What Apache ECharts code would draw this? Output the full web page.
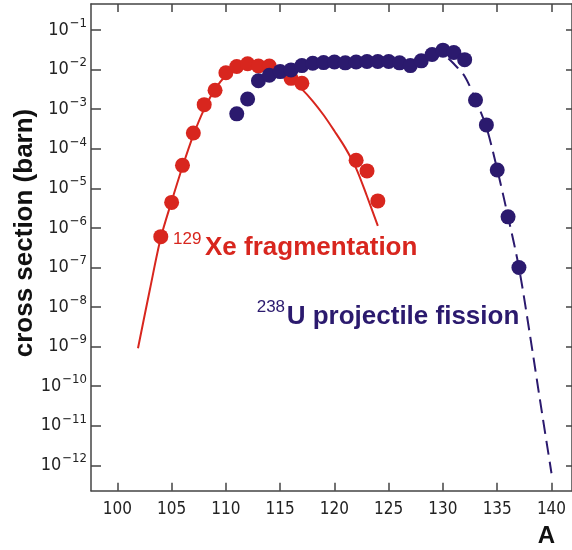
<!DOCTYPE html>
<html>
<head>
<meta charset="utf-8">
<script src="https://cdn.jsdelivr.net/npm/echarts@6/dist/echarts.min.js"></script>
<style>
  html, body { margin: 0; padding: 0; background: #fff; }
  #chart { width: 572px; height: 550px; }
</style>
</head>
<body>
<div id="chart"></div>
<script>
// Mass number A and production cross sections (barn)

// 129Xe fragmentation: measured points
const xeA     = [104, 105, 106, 107, 108, 109, 110, 111, 112, 113, 114, 116, 117, 122, 123, 124];
const xeSigma = [6.0e-7, 4.4e-6, 3.8e-5, 2.5e-4, 1.3e-3, 3.0e-3, 8.3e-3, 1.2e-2, 1.4e-2, 1.23e-2,
                 1.23e-2, 6.0e-3, 4.5e-3, 5.1e-5, 2.75e-5, 4.8e-6];

// 129Xe fragmentation: calculated curve
const xeCurveA     = [101.9, 103, 104, 105, 106, 107, 108, 109, 110, 111, 112, 113, 114, 115,
                      116, 117, 118, 119, 120, 121, 122, 123, 124];
const xeCurveSigma = [9.1e-10, 2.8e-8, 5.6e-7, 4.7e-6, 3.5e-5, 2.2e-4, 1.0e-3, 3.2e-3, 7.1e-3,
                      1.12e-2, 1.35e-2, 1.35e-2, 1.17e-2, 8.9e-3, 5.6e-3, 3.2e-3, 1.6e-3, 7.1e-4,
                      2.8e-4, 1.05e-4, 3.2e-5, 6.3e-6, 1.12e-6];

// 238U projectile fission: measured points
const uA     = [111, 112, 113, 114, 115, 116, 117, 118, 119, 120, 121, 122, 123, 124,
                125, 126, 127, 128, 129, 130, 131, 132, 133, 134, 135, 136, 137];
const uSigma = [7.6e-4, 1.8e-3, 5.2e-3, 7.2e-3, 8.9e-3, 9.8e-3, 1.26e-2, 1.45e-2, 1.5e-2,
                1.55e-2, 1.48e-2, 1.55e-2, 1.6e-2, 1.6e-2, 1.6e-2, 1.48e-2, 1.26e-2, 1.66e-2,
                2.4e-2, 3.1e-2, 2.7e-2, 1.78e-2, 1.7e-3, 4.0e-4, 2.9e-5, 1.9e-6, 1.0e-7];

// 238U projectile fission: calculated tail
const uCurveA     = [130.5, 131, 132, 133, 134, 135, 136, 137, 138, 139, 140];
const uCurveSigma = [1.9e-2, 1.4e-2, 6.8e-3, 1.74e-3, 3.5e-4, 3.0e-5, 1.9e-6, 1.0e-7,
                     2.1e-9, 3.5e-11, 6.3e-13];

// Axis ticks
const xTicks = [100, 105, 110, 115, 120, 125, 130, 135, 140];
const yTickExponents = [-12, -11, -10, -9, -8, -7, -6, -5, -4, -3, -2, -1];

const pairs = (xs, ys) => xs.map((x, i) => [x, ys[i]]);
const yTicks = yTickExponents.map(e => Math.pow(10, e));

const RED = '#d8261e';
const BLUE = '#2b1a6e';
const AXIS = '#444';
const NARROW = "'Liberation Sans Narrow', 'DejaVu Sans Condensed', 'Liberation Sans', sans-serif";
const SANS = "'Liberation Sans', Arial, sans-serif";

const X_MIN = 97.57, X_MAX = 141.89;
const Y_MIN = Math.pow(10, -12.642), Y_MAX = Math.pow(10, -0.343);

const axisLine = { show: true, onZero: false, lineStyle: { color: AXIS, width: 1.5 } };

function textEl(x, y, text, size, weight, color, align, rotation) {
  return {
    type: 'text', x: x, y: y, rotation: rotation || 0,
    style: {
      text: text, fontSize: size, fontWeight: weight, fontFamily: SANS, fill: color,
      textAlign: align, textVerticalAlign: 'middle', align: align, verticalAlign: 'middle'
    }
  };
}

const chart = echarts.init(document.getElementById('chart'), null, { renderer: 'canvas' });

chart.setOption({
  animation: false,
  backgroundColor: '#fff',
  grid: { left: 91, right: -1, top: 4, bottom: 59.3, containLabel: false },
  xAxis: [
    {
      type: 'value', min: X_MIN, max: X_MAX, position: 'bottom',
      axisLine: axisLine,
      axisTick: { show: true, inside: true, length: 8, customValues: xTicks, lineStyle: { color: AXIS, width: 1.5 } },
      axisLabel: { customValues: xTicks, margin: 10, fontSize: 17, color: '#222', fontFamily: NARROW },
      splitLine: { show: false }
    },
    {
      type: 'value', min: X_MIN, max: X_MAX, position: 'top',
      axisLine: axisLine,
      axisTick: { show: true, inside: true, length: 8, customValues: xTicks, lineStyle: { color: AXIS, width: 1.5 } },
      axisLabel: { show: false },
      splitLine: { show: false }
    }
  ],
  yAxis: [
    {
      type: 'log', logBase: 10, min: Y_MIN, max: Y_MAX, position: 'left',
      axisLine: axisLine,
      axisTick: { show: true, inside: true, length: 10, customValues: yTicks, lineStyle: { color: AXIS, width: 1.5 } },
      axisLabel: {
        customValues: yTicks,
        margin: 4,
        formatter: v => '{b|10}{s|\u2212' + (-Math.round(Math.log10(v))) + '}',
        rich: {
          b: { fontSize: 18, lineHeight: 26, color: '#222', fontFamily: NARROW },
          s: { fontSize: 13, lineHeight: 13, verticalAlign: 'top', color: '#222', fontFamily: NARROW, padding: [0, 0, 0, 1] }
        }
      },
      splitLine: { show: false }
    },
    {
      type: 'log', logBase: 10, min: Y_MIN, max: Y_MAX, position: 'right',
      axisLine: axisLine,
      axisTick: { show: true, inside: true, length: 6, customValues: yTicks, lineStyle: { color: AXIS, width: 1.5 } },
      axisLabel: { show: false },
      splitLine: { show: false }
    }
  ],
  series: [
    {
      name: 'Xe curve', type: 'line', data: pairs(xeCurveA, xeCurveSigma),
      smooth: 0.3, showSymbol: false, silent: true,
      lineStyle: { color: RED, width: 2 }, z: 2
    },
    {
      name: 'Xe data', type: 'scatter', data: pairs(xeA, xeSigma),
      symbol: 'circle', symbolSize: 15, itemStyle: { color: RED, opacity: 1 }, z: 3
    },
    {
      name: 'U curve', type: 'line', data: pairs(uCurveA, uCurveSigma),
      smooth: 0.3, showSymbol: false, silent: true,
      lineStyle: { color: BLUE, width: 2, type: [14, 7] }, z: 4
    },
    {
      name: 'U data', type: 'scatter', data: pairs(uA, uSigma),
      symbol: 'circle', symbolSize: 15, itemStyle: { color: BLUE, opacity: 1 }, z: 5
    }
  ],
  graphic: [
    textEl(24.5, 233, 'cross section (barn)', 26, 'bold', '#111', 'center', Math.PI / 2),
    textEl(546.5, 536, 'A', 24, 'bold', '#111', 'center'),
    textEl(173, 239.2, '129', 17, 'normal', RED, 'left'),
    textEl(205, 247.5, 'Xe fragmentation', 26, 'bold', RED, 'left'),
    textEl(256.7, 307.5, '238', 17, 'normal', BLUE, 'left'),
    textEl(286.7, 316.7, 'U projectile fission', 26, 'bold', BLUE, 'left')
  ]
});
</script>
</body>
</html>
